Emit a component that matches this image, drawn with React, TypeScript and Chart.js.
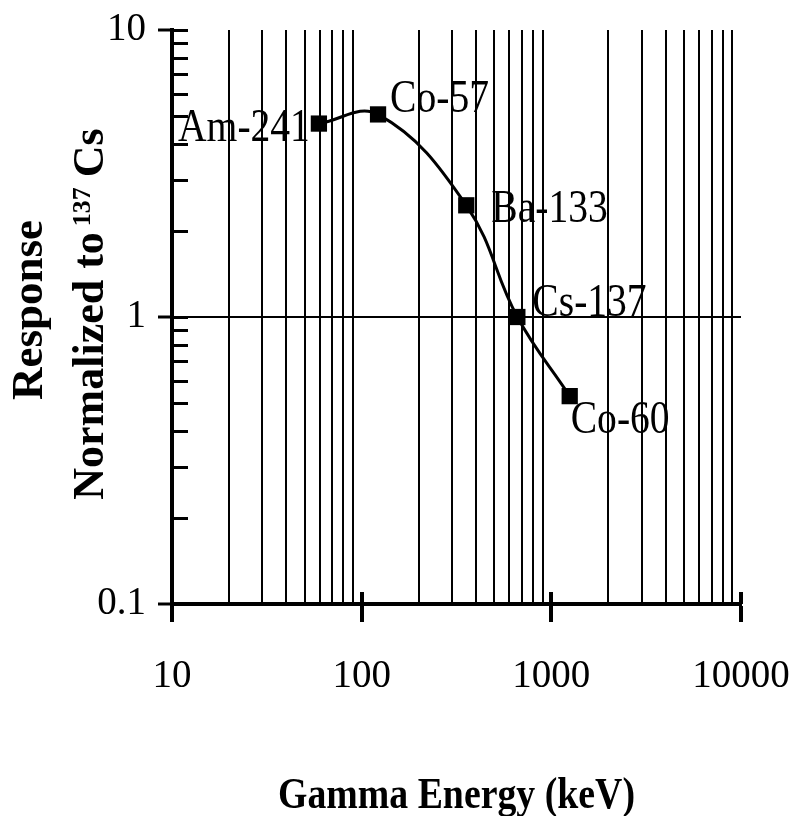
import React, { useEffect, useRef } from 'react';
import { Chart, registerables } from 'chart.js';

Chart.register(...registerables);

// ---------------- data ----------------
const NUCLIDES = ['Am-241', 'Co-57', 'Ba-133', 'Cs-137', 'Co-60'];
const ENERGY_KEV = [59.5, 122, 356, 662, 1250];
const RESPONSE = [4.72, 5.08, 2.45, 1.0, 0.53];

const X_DECADES = [10, 100, 1000, 10000];
const X_TICK_LABELS = ['10', '100', '1000', '10000'];
const Y_DECADES = [0.1, 1, 10];
const Y_TICK_LABELS = ['0.1', '1', '10'];
const MINOR_MULTIPLIERS = [2, 3, 4, 5, 6, 7, 8, 9];
const REFERENCE_LEVEL = 1;

const X_TITLE = 'Gamma Energy (keV)';
const Y_TITLE_LINE1 = 'Response';
const Y_TITLE_LINE2 = ['Normalized to', '137', 'Cs'];

// ---------------- helpers ----------------
const FONT = "'Liberation Serif', 'Times New Roman', serif";

function buildLogTicks(decades: number[]): number[] {
  const vals: number[] = [];
  decades.forEach((d, i) => {
    vals.push(d);
    if (i < decades.length - 1) {
      MINOR_MULTIPLIERS.forEach((m) => vals.push(Number((d * m).toPrecision(6))));
    }
  });
  return vals;
}
const close = (a: number, b: number) => Math.abs(a - b) < 1e-9 * Math.max(Math.abs(a), Math.abs(b));
const decadeIndex = (decades: number[], v: number) => decades.findIndex((d) => close(d, v));

const X_TICKS = buildLogTicks(X_DECADES);
const Y_TICKS = buildLogTicks(Y_DECADES);

// label placement relative to each marker (style only)
const LABEL_PLACEMENT = [
  { align: 'right', dx: -9, dy: 17 },
  { align: 'left', dx: 12, dy: -2 },
  { align: 'left', dx: 25, dy: 17 },
  { align: 'left', dx: 15, dy: -1 },
  { align: 'left', dx: 1, dy: 37 },
];

const extrasPlugin = {
  id: 'extras',
  afterDraw(chart: any) {
    const { ctx, chartArea } = chart;
    const xs = chart.scales.x;
    const ys = chart.scales.y;
    ctx.save();
    ctx.strokeStyle = '#000';
    ctx.fillStyle = '#000';

    // inner y ticks
    ctx.lineWidth = 3;
    Y_TICKS.forEach((v) => {
      const py = Math.round(ys.getPixelForValue(v)) + 0.5;
      ctx.beginPath();
      ctx.moveTo(chartArea.left, py);
      ctx.lineTo(chartArea.left + 16, py);
      ctx.stroke();
    });
    // inner x major ticks
    ctx.lineWidth = 4;
    X_DECADES.forEach((v) => {
      const px = Math.round(xs.getPixelForValue(v));
      ctx.beginPath();
      ctx.moveTo(px, chartArea.bottom);
      ctx.lineTo(px, chartArea.bottom - 12);
      ctx.stroke();
    });

    // nuclide labels
    const meta = chart.getDatasetMeta(0);
    ctx.font = `46px ${FONT}`;
    ctx.textBaseline = 'alphabetic';
    NUCLIDES.forEach((name, i) => {
      const pt = meta.data[i];
      const pl = LABEL_PLACEMENT[i];
      ctx.save();
      ctx.translate(pt.x + pl.dx, pt.y + pl.dy);
      ctx.scale(0.86, 1);
      ctx.textAlign = pl.align;
      ctx.fillText(name, 0, 0);
      ctx.restore();
    });

    // x title
    ctx.save();
    ctx.font = `bold 45px ${FONT}`;
    ctx.textAlign = 'center';
    ctx.textBaseline = 'alphabetic';
    ctx.translate((chartArea.left + chartArea.right) / 2, 808);
    ctx.scale(0.84, 1);
    ctx.fillText(X_TITLE, 0, 0);
    ctx.restore();

    // y title line 1
    ctx.save();
    ctx.font = `bold 45px ${FONT}`;
    ctx.textAlign = 'center';
    ctx.textBaseline = 'alphabetic';
    ctx.translate(42, 310);
    ctx.rotate(-Math.PI / 2);
    ctx.fillText(Y_TITLE_LINE1, 0, 0);
    ctx.restore();

    // y title line 2 with superscript
    ctx.save();
    ctx.textAlign = 'left';
    ctx.textBaseline = 'alphabetic';
    ctx.translate(103, 314);
    ctx.rotate(-Math.PI / 2);
    const mainFont = `bold 44px ${FONT}`;
    const supFont = `bold 26px ${FONT}`;
    const gaps = [6, 10];
    ctx.font = mainFont;
    const w1 = ctx.measureText(Y_TITLE_LINE2[0]).width;
    const w3 = ctx.measureText(Y_TITLE_LINE2[2]).width;
    ctx.font = supFont;
    const w2 = ctx.measureText(Y_TITLE_LINE2[1]).width;
    const total = w1 + gaps[0] + w2 + gaps[1] + w3;
    let cx = -total / 2;
    ctx.font = mainFont;
    ctx.fillText(Y_TITLE_LINE2[0], cx, 0);
    cx += w1 + gaps[0];
    ctx.font = supFont;
    ctx.fillText(Y_TITLE_LINE2[1], cx, -13);
    cx += w2 + gaps[1];
    ctx.font = mainFont;
    ctx.fillText(Y_TITLE_LINE2[2], cx, 0);
    ctx.restore();

    ctx.restore();
  },
};

export default function App() {
  const canvasRef = useRef<HTMLCanvasElement | null>(null);

  useEffect(() => {
    const canvas = canvasRef.current;
    if (!canvas) return;
    Chart.defaults.font.family = FONT;
    Chart.defaults.color = '#000';

    const chart = new Chart(canvas, {
      type: 'line',
      data: {
        datasets: [
          {
            data: ENERGY_KEV.map((e, i) => ({ x: e, y: RESPONSE[i] })),
            borderColor: '#000',
            borderWidth: 3,
            tension: 0.4,
            pointStyle: 'rect',
            pointRadius: 11.5,
            pointBackgroundColor: '#000',
            pointBorderColor: '#000',
            pointBorderWidth: 0,
            clip: false,
          } as any,
        ],
      },
      options: {
        responsive: false,
        animation: false,
        events: [],
        layout: { padding: { top: 30, right: 57, left: 0, bottom: 0 } },
        plugins: {
          legend: { display: false },
          tooltip: { enabled: false },
        },
        scales: {
          x: {
            type: 'logarithmic',
            min: 10,
            max: 10000,
            afterBuildTicks: (scale: any) => {
              scale.ticks = X_TICKS.map((v) => ({ value: v, major: decadeIndex(X_DECADES, v) >= 0 }));
            },
            afterFit: (scale: any) => {
              scale.height = 212;
              scale.paddingLeft = 0;
              scale.paddingRight = 0;
            },
            ticks: {
              autoSkip: false,
              maxRotation: 0,
              minRotation: 0,
              padding: 31,
              color: '#000',
              font: { size: 39, family: FONT },
              callback: (value: any) => {
                const i = decadeIndex(X_DECADES, Number(value));
                return i >= 0 ? X_TICK_LABELS[i] : '';
              },
            },
            grid: {
              drawOnChartArea: true,
              drawTicks: true,
              tickLength: 18,
              tickWidth: 4,
              lineWidth: 2,
              color: (ctx: any) =>
                ctx.tick && decadeIndex(X_DECADES, ctx.tick.value) >= 0 ? 'rgba(0,0,0,0)' : '#000',
              tickColor: (ctx: any) =>
                ctx.tick && decadeIndex(X_DECADES, ctx.tick.value) >= 0 ? '#000' : 'rgba(0,0,0,0)',
            },
            border: { display: true, color: '#000', width: 4 },
            title: { display: false },
          },
          y: {
            type: 'logarithmic',
            min: 0.1,
            max: 10,
            afterBuildTicks: (scale: any) => {
              scale.ticks = Y_TICKS.map((v) => ({ value: v, major: decadeIndex(Y_DECADES, v) >= 0 }));
            },
            afterFit: (scale: any) => {
              scale.width = 172;
              scale.paddingTop = 0;
              scale.paddingBottom = 0;
            },
            ticks: {
              autoSkip: false,
              padding: 12,
              color: '#000',
              font: { size: 39, family: FONT },
              callback: (value: any) => {
                const i = decadeIndex(Y_DECADES, Number(value));
                return i >= 0 ? Y_TICK_LABELS[i] : '';
              },
            },
            grid: {
              drawOnChartArea: true,
              drawTicks: true,
              tickLength: 14,
              tickWidth: 3,
              lineWidth: 2,
              color: (ctx: any) =>
                ctx.tick && close(ctx.tick.value, REFERENCE_LEVEL) ? '#000' : 'rgba(0,0,0,0)',
              tickColor: (ctx: any) =>
                ctx.tick && decadeIndex(Y_DECADES, ctx.tick.value) >= 0 ? '#000' : 'rgba(0,0,0,0)',
            },
            border: { display: true, color: '#000', width: 4 },
            title: { display: false },
          },
        },
      } as any,
      plugins: [extrasPlugin as any],
    });

    return () => chart.destroy();
  }, []);

  return (
    <div style={{ position: 'fixed', left: 0, top: 0, width: 798, height: 816, background: '#fff' }}>
      <canvas ref={canvasRef} width={798} height={816} style={{ width: 798, height: 816 }} />
    </div>
  );
}
